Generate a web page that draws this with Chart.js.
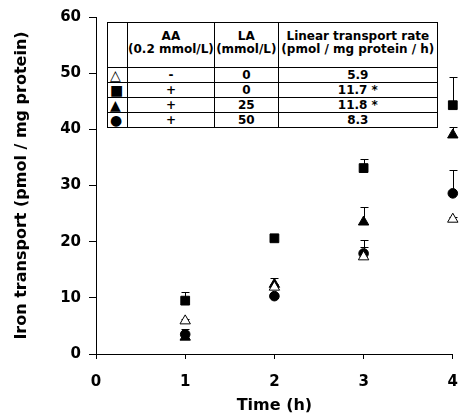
<!DOCTYPE html>
<html>
<head>
<meta charset="utf-8">
<script src="https://cdn.jsdelivr.net/npm/chart.js@4/dist/chart.umd.min.js"></script>
<style>
  html, body { margin: 0; padding: 0; background: #fff; }
  #wrap { position: relative; width: 460px; height: 418px; }
  #c { position: absolute; left: 0; top: 0; }
  #tbl {
    position: absolute; left: 107px; top: 22px;
    border-collapse: collapse; background: #fff;
    font-family: "DejaVu Sans", sans-serif; font-weight: bold; font-size: 12px; color: #000;
    table-layout: fixed; -webkit-font-smoothing: antialiased;
  }
  #tbl td { border: 1px solid #000; padding: 0; text-align: center; vertical-align: middle; line-height: 13px; white-space: nowrap; color: #000; }
  #tbl tr.hd td { height: 40px; padding-bottom: 4px; }
  #tbl tr.rw td { height: 14px; }
  #tbl td.sym { font-size: 14px; text-align: left; padding-left: 2px; }
</style>
</head>
<body>
<div id="wrap">
  <canvas id="c" width="460" height="418"></canvas>
  <table id="tbl"></table>
</div>
<script>
// ---- data ----
const times = [1, 2, 3, 4];
const openTri   = [5.9, 11.9, 17.3, 24.0];
const errOpenTri = [0.4, 0.6, 1.8, 0.4];
const squares   = [9.5, 20.6, 33.1, 44.3];
const errSquares = [1.5, 0.5, 1.7, 5.1];
const fillTri   = [3.0, 12.4, 23.5, 39.0];
const errFillTri = [1.4, 1.2, 2.7, 1.5];
const circles   = [3.5, 10.3, 17.9, 28.6];
const errCircles = [0.3, 0.3, 2.4, 4.2];

const xTicks = [0, 1, 2, 3, 4];
const yTicks = [0, 10, 20, 30, 40, 50, 60];

// table content
const tableSymbols = ['\u25B3', '\u25A0', '\u25B2', '\u25CF'];
const tableAA = ['-', '+', '+', '+'];
const tableLA = ['0', '0', '25', '50'];
const tableRate = ['5.9', '11.7 *', '11.8 *', '8.3'];
const tableHeaders = ['', 'AA<br>(0.2 mmol/L)', 'LA<br>(mmol/L)', 'Linear transport rate<br>(pmol / mg protein / h)'];

// ---- build table ----
(function () {
  const widths = [20, 85, 64, 159];
  const t = document.getElementById('tbl');
  const cg = document.createElement('colgroup');
  widths.forEach(w => { const c = document.createElement('col'); c.style.width = w + 'px'; cg.appendChild(c); });
  t.appendChild(cg);
  const hr = document.createElement('tr'); hr.className = 'hd';
  tableHeaders.forEach(h => { const td = document.createElement('td'); td.innerHTML = h; hr.appendChild(td); });
  t.appendChild(hr);
  for (let i = 0; i < tableSymbols.length; i++) {
    const tr = document.createElement('tr'); tr.className = 'rw';
    [tableSymbols[i], tableAA[i], tableLA[i], tableRate[i]].forEach((v, k) => {
      const td = document.createElement('td'); td.textContent = v; if (k === 0) td.className = 'sym'; tr.appendChild(td);
    });
    t.appendChild(tr);
  }
})();

const toPts = arr => arr.map((v, i) => ({ x: times[i], y: v }));

const datasets = [
  { data: toPts(openTri), err: errOpenTri, pointStyle: 'triangle', pointRadius: 6, backgroundColor: '#fff', borderColor: '#000', borderWidth: 1 },
  { data: toPts(circles), err: errCircles, pointStyle: 'circle', pointRadius: 4.8, backgroundColor: '#000', borderColor: '#000', borderWidth: 1 },
  { data: toPts(fillTri), err: errFillTri, pointStyle: 'triangle', pointRadius: 6, backgroundColor: '#000', borderColor: '#000', borderWidth: 1 },
  { data: toPts(squares), err: errSquares, pointStyle: 'rect', pointRadius: 6.2, backgroundColor: '#000', borderColor: '#000', borderWidth: 1 }
];
datasets.forEach(d => { d.showLine = false; d.pointHoverRadius = d.pointRadius; d.clip = false; });

const errorBars = {
  id: 'errorBars',
  beforeDatasetsDraw(chart) {
    const { ctx, scales: { x, y } } = chart;
    ctx.save();
    ctx.strokeStyle = '#000';
    ctx.lineWidth = 1;
    chart.data.datasets.forEach(ds => {
      ds.data.forEach((p, j) => {
        const px = Math.round(x.getPixelForValue(p.x)) + 0.5;
        const py = y.getPixelForValue(p.y);
        const pt = Math.round(y.getPixelForValue(p.y + ds.err[j])) + 0.5;
        ctx.beginPath();
        ctx.moveTo(px, py); ctx.lineTo(px, pt);
        ctx.moveTo(px - 4, pt); ctx.lineTo(px + 4, pt);
        ctx.stroke();
      });
    });
    ctx.restore();
  }
};

Chart.defaults.color = '#000';
Chart.defaults.font.family = '"DejaVu Sans", sans-serif';
Chart.defaults.font.weight = 'bold';

new Chart(document.getElementById('c'), {
  type: 'scatter',
  data: { datasets },
  plugins: [errorBars],
  options: {
    responsive: false,
    animation: false,
    events: [],
    layout: { padding: { left: 0, top: 17, right: 7, bottom: 0 } },
    plugins: { legend: { display: false }, tooltip: { enabled: false } },
    scales: {
      x: {
        type: 'linear', min: 0, max: 4,
        afterBuildTicks: s => { s.ticks = xTicks.map(v => ({ value: v })); },
        afterFit: s => { s.height = 64; s.paddingLeft = 0; s.paddingRight = 0; },
        grid: { drawOnChartArea: false, drawTicks: true, tickLength: 5, color: '#000' },
        border: { color: '#000', width: 1 },
        ticks: { font: { size: 15, weight: 'bold' }, padding: 14, color: '#000' },
        title: { display: true, text: 'Time (h)', font: { size: 16, weight: 'bold' }, padding: { top: 0, bottom: 3 }, color: '#000' }
      },
      y: {
        type: 'linear', min: 0, max: 60,
        afterBuildTicks: s => { s.ticks = yTicks.map(v => ({ value: v })); },
        afterFit: s => { s.width = 96; s.paddingTop = 0; s.paddingBottom = 0; },
        grid: { drawOnChartArea: false, drawTicks: true, tickLength: 7, color: '#000' },
        border: { color: '#000', width: 1 },
        ticks: { font: { size: 15, weight: 'bold' }, padding: 8, color: '#000' },
        title: { display: true, text: 'Iron transport (pmol / mg protein)', font: { size: 16, weight: 'bold' }, padding: { top: 12, bottom: 0 }, color: '#000' }
      }
    }
  }
});
</script>
</body>
</html>
